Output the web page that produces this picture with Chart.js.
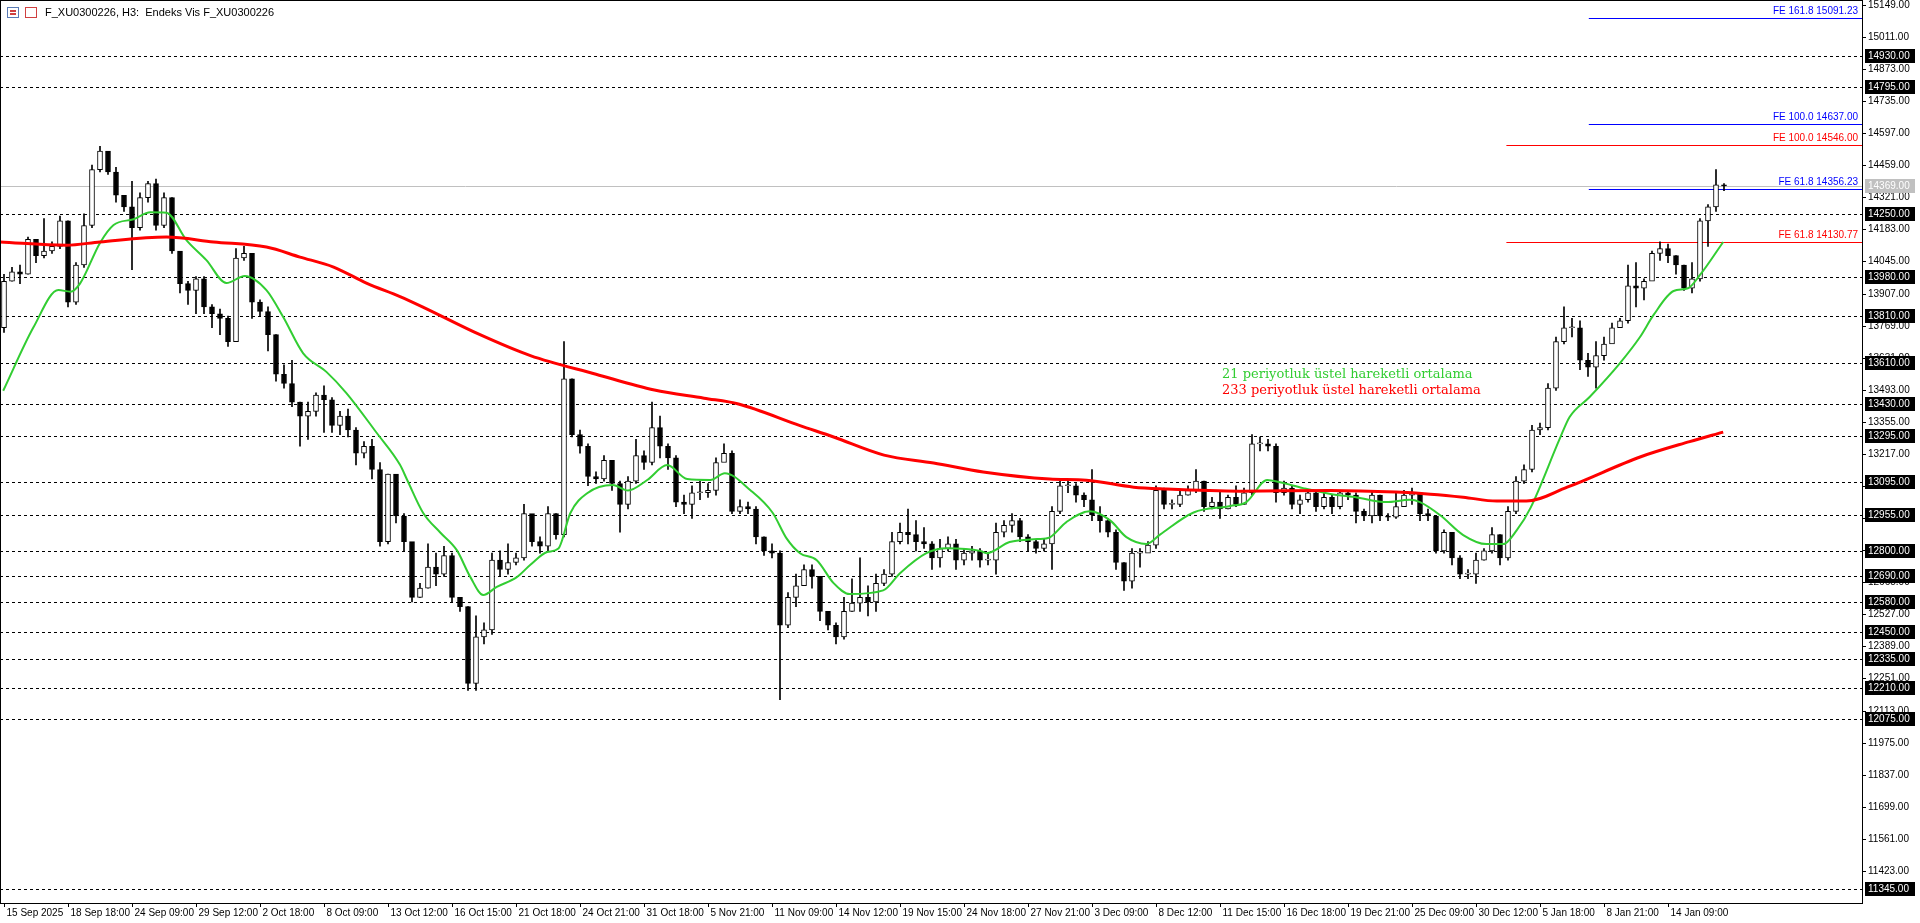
<!DOCTYPE html>
<html>
<head>
<meta charset="utf-8">
<script src="https://cdn.jsdelivr.net/npm/chart.js@4.4.1/dist/chart.umd.min.js"></script>
<style>
  html,body{margin:0;padding:0;background:#fff;overflow:hidden}
  #c{display:block}
</style>
</head>
<body>
<canvas id="c" width="1920" height="923"></canvas>
<script>
// H3 candles (one drawn candle per two source bars), open = previous close
const firstOpen = 13760;
const closes = [
  13960,14000,13990,14140,14070,14090,14110,14220,13870,14030,
  14200,14440,14520,14430,14330,14280,14190,14320,14380,14200,
  14320,14090,13950,13920,13970,13850,13820,13800,13700,14060,
  14080,13870,13830,13730,13560,13520,13440,13380,13400,13470,
  13450,13340,13380,13320,13220,13250,13150,12840,13130,12950,
  12840,12600,12640,12730,12700,12780,12600,12560,12230,12430,
  12460,12760,12720,12750,12770,12960,12840,12820,12960,12870,
  13540,13300,13250,13120,13110,13190,13090,13000,13100,13210,
  13180,13330,13250,13200,13010,13000,13050,13050,13060,13180,
  13220,12970,12990,12980,12860,12800,12790,12480,12600,12650,
  12720,12690,12540,12480,12430,12540,12575,12600,12580,12660,
  12700,12840,12880,12870,12840,12830,12770,12810,12830,12760,
  12790,12800,12760,12760,12880,12910,12930,12860,12840,12810,
  12830,12970,13080,13080,13040,13020,12955,12930,12880,12750,
  12670,12790,12790,12825,13060,13000,13000,13040,13060,13100,
  12990,13010,12980,13030,13000,13050,13260,13260,13250,13050,
  13070,13000,13020,13050,12990,13030,12990,13050,13040,12970,
  12950,13040,12950,12945,12990,13040,13050,12960,12950,12800,
  12880,12770,12700,12700,12760,12800,12870,12770,12970,13100,
  13150,13320,13330,13500,13700,13760,13760,13620,13590,13640,
  13690,13760,13790,13940,13930,13960,14080,14100,14070,14030,
  13930,13970,14220,14280,14375,14370
];
const highs = [
  13990,14020,14030,14150,14110,14230,14130,14240,14220,14040,
  14250,14460,14540,14500,14450,14330,14390,14340,14390,14400,
  14340,14320,14060,13960,13980,13980,13860,13840,13810,14100,
  14110,14080,13880,13850,13730,13600,13620,13440,13440,13480,
  13510,13460,13400,13410,13330,13270,13280,13180,13130,13060,
  12960,12830,12660,12830,12790,12820,12790,12600,12560,12520,
  12490,12790,12800,12830,12790,13000,12950,12860,12990,12960,
  13700,13540,13320,13260,13140,13210,13190,13100,13120,13280,
  13230,13440,13380,13260,13210,13040,13080,13100,13090,13200,
  13260,13230,13020,13010,12990,12860,12830,12800,12620,12700,
  12740,12740,12690,12540,12490,12600,12680,12770,12650,12700,
  12720,12880,12920,12980,12930,12900,12840,12850,12860,12850,
  12810,12820,12810,12790,12920,12930,12960,12940,12870,12850,
  12850,12990,13100,13100,13090,13050,13150,12990,12940,12890,
  12750,12810,12810,12840,13080,13070,13020,13060,13080,13150,
  13100,13030,13060,13040,13080,13070,13300,13290,13280,13260,
  13100,13080,13040,13060,13060,13050,13040,13060,13060,13050,
  12980,13060,13040,12960,13050,13060,13070,13040,12980,12940,
  12890,12880,12780,12720,12790,12810,12900,12870,12990,13120,
  13170,13340,13350,13520,13720,13850,13800,13790,13650,13700,
  13720,13780,13800,14030,14040,13970,14090,14130,14120,14070,
  14030,14040,14230,14290,14440,14380
];
const lows = [
  13740,13960,13950,13990,14040,14060,14080,14100,13850,13860,
  14020,14190,14430,14420,14300,14260,14010,14180,14300,14180,
  14190,14080,13910,13860,13820,13820,13760,13730,13680,13700,
  14050,13800,13810,13660,13530,13500,13420,13250,13280,13380,
  13310,13310,13300,13290,13170,13200,13110,12820,12830,12920,
  12800,12580,12600,12640,12650,12690,12580,12540,12200,12200,
  12400,12440,12690,12700,12740,12760,12820,12790,12800,12850,
  12860,13290,13220,13080,13090,13100,13060,12880,12980,13090,
  13150,13170,13200,13150,12990,12960,12940,13020,13030,13040,
  13190,12960,12960,12960,12830,12780,12770,12160,12470,12560,
  12680,12640,12500,12460,12400,12420,12540,12540,12520,12540,
  12650,12690,12830,12830,12800,12810,12720,12730,12800,12720,
  12740,12760,12730,12740,12700,12860,12880,12840,12800,12790,
  12800,12720,12960,13050,13010,12990,12930,12880,12860,12720,
  12630,12640,12730,12800,12810,12980,12980,12990,13040,13050,
  12970,12980,12940,12980,12990,13000,13040,13230,13230,13010,
  13040,12980,12960,13010,12970,12980,12960,12980,13020,12920,
  12930,12920,12930,12930,12940,12990,13000,12930,12930,12790,
  12790,12740,12680,12680,12660,12760,12790,12740,12760,12960,
  13090,13140,13300,13320,13490,13690,13720,13580,13550,13500,
  13620,13700,13760,13780,13850,13880,13990,14050,14040,13990,
  13920,13910,13960,14110,14260,14350
];

// moving averages: [bar index, price]
const ema21 = [
  [-0.1,13489],[3.7,13763],[6.8,13922],[8.3,13915],[9.5,13950],[12,14125],
  [13.7,14202],[16.2,14227],[18.3,14257],[20.3,14255],[22.8,14137],[25.3,14051],
  [27.8,13952],[30.1,13983],[32.8,13922],[34.9,13806],[37.4,13650],[40.3,13570],
  [42.8,13479],[46.6,13307],[49.5,13170],[50.4,13105],[52.4,12963],[54.5,12880],
  [56.6,12803],[58.3,12687],[59.9,12610],[61.6,12645],[64.1,12687],[65.8,12740],
  [67.9,12795],[69.3,12810],[70.8,12963],[72.9,13048],[76.1,13083],[78,13060],
  [80.4,13105],[82.9,13169],[85.4,13109],[88.3,13105],[90.1,13134],[93.3,13061],
  [96.1,12963],[97.8,12855],[99.5,12790],[101.6,12760],[103.7,12661],[105.7,12614],
  [109.9,12630],[112,12704],[115.3,12790],[117.8,12811],[122,12800],[122.8,12790],
  [125.7,12838],[128.7,12850],[130.5,12855],[132.8,12924],[135.7,12970],[138.3,12930],
  [140.3,12859],[142.8,12830],[144.5,12870],[148.7,12965],[153.3,12993],[155.3,13010],
  [157.9,13105],[159.5,13095],[162.4,13070],[165.8,13045],[169.1,13030],[172.8,13010],
  [175.7,13020],[177,13010],[179.5,12954],[182.4,12868],[185.3,12829],[187.4,12829],
  [189.1,12889],[190.8,12984],[194.5,13285],[195.7,13376],[198.2,13462],[202,13608],
  [204.5,13720],[206.2,13815],[208.7,13918],[210.5,13930],[212,13987],[214.9,14129]
];
const ema233 = [
  [-0.5,14129],[7.8,14115],[12,14129],[20.3,14150],[26.2,14129],[32.8,14107],
  [37,14064],[41.2,14021],[45.3,13952],[49.5,13894],[52.3,13850],[59.5,13730],
  [65.8,13640],[74,13560],[81.3,13492],[87.5,13457],[91.8,13432],[99.5,13339],
  [103.7,13290],[110,13212],[116.2,13178],[122.4,13139],[130.7,13109],[135.3,13104],
  [141.2,13074],[145.3,13066],[154.5,13057],[165.8,13060],[174,13053],[178.3,13044],
  [182.4,13031],[186.6,13014],[190.3,13014],[195.4,13074],[204.6,13205],[210.7,13270],
  [214.9,13311]
];

// horizontal levels and axis
const levels = [14930,14795,14250,13980,13810,13610,13430,13295,13095,12955,12800,12690,12580,12450,12335,12210,12075,11345];
const priceTicks = [15149,15011,14873,14735,14597,14459,14321,14183,14045,13907,13769,13631,13493,13355,13217,13079,12941,12803,12665,12527,12389,12251,12113,11975,11837,11699,11561,11423];
const lastPrice = 14369.00;
const fibLevels = [
  {label:'FE 161.8 15091.23', price:15091.23, color:'#0000ff', from:198.1},
  {label:'FE 100.0 14637.00', price:14637.00, color:'#0000ff', from:198.1},
  {label:'FE 100.0 14546.00', price:14546.00, color:'#ff0000', from:187.8},
  {label:'FE 61.8 14356.23', price:14356.23, color:'#0000ff', from:198.1},
  {label:'FE 61.8 14130.77', price:14130.77, color:'#ff0000', from:187.8}
];
const timeLabels = ['15 Sep 2025','18 Sep 18:00','24 Sep 09:00','29 Sep 12:00','2 Oct 18:00','8 Oct 09:00',
  '13 Oct 12:00','16 Oct 15:00','21 Oct 18:00','24 Oct 21:00','31 Oct 18:00','5 Nov 21:00','11 Nov 09:00',
  '14 Nov 12:00','19 Nov 15:00','24 Nov 18:00','27 Nov 21:00','3 Dec 09:00','8 Dec 12:00','11 Dec 15:00',
  '16 Dec 18:00','19 Dec 21:00','25 Dec 09:00','30 Dec 12:00','5 Jan 18:00','8 Jan 21:00','14 Jan 09:00'];
const labelStep = 8;

const opens = closes.map((c,i)=> i===0 ? firstOpen : closes[i-1]);
const wicks = closes.map((c,i)=>({x:i, y:[lows[i], highs[i]]}));
const bodies = closes.map((c,i)=>({x:i, y:[opens[i], c]}));
const bodyFill = closes.map((c,i)=> c>=opens[i] ? '#ffffff' : '#000000');

const axisFont = '10px "Liberation Sans"';

const overlay = {
  id:'overlay',
  beforeDatasetsDraw(chart){
    const {ctx, chartArea:a, scales:{x,y}} = chart;
    ctx.save();
    ctx.strokeStyle='#000'; ctx.lineWidth=1; ctx.setLineDash([3,3]);
    levels.forEach(p=>{
      const py=Math.round(y.getPixelForValue(p))+0.5;
      ctx.beginPath(); ctx.moveTo(a.left,py); ctx.lineTo(a.right,py); ctx.stroke();
    });
    ctx.setLineDash([]);
    ctx.strokeStyle='#c0c0c0';
    let py=Math.round(y.getPixelForValue(lastPrice))+0.5;
    ctx.beginPath(); ctx.moveTo(a.left,py); ctx.lineTo(a.right,py); ctx.stroke();
    ctx.font=axisFont; ctx.textAlign='right'; ctx.textBaseline='bottom';
    fibLevels.forEach(f=>{
      const fy=Math.round(y.getPixelForValue(f.price))+0.5;
      ctx.strokeStyle=f.color; ctx.beginPath();
      ctx.moveTo(x.getPixelForValue(f.from),fy); ctx.lineTo(a.right,fy); ctx.stroke();
      ctx.fillStyle=f.color; ctx.fillText(f.label,a.right-4,fy-2);
    });
    ctx.restore();
  },
  afterDraw(chart){
    const {ctx, chartArea:a, scales:{x,y}} = chart;
    ctx.save();
    ctx.strokeStyle='#000'; ctx.lineWidth=1;
    ctx.strokeRect(a.left+0.5,a.top+0.5,a.right-a.left,a.bottom-a.top);
    // right axis
    ctx.font=axisFont; ctx.textAlign='left'; ctx.textBaseline='middle';
    priceTicks.forEach(p=>{
      const py=Math.round(y.getPixelForValue(p));
      ctx.strokeStyle='#000'; ctx.beginPath(); ctx.moveTo(a.right,py+0.5); ctx.lineTo(a.right+4,py+0.5); ctx.stroke();
      ctx.fillStyle='#000'; ctx.fillText(p.toFixed(2),a.right+6,py);
    });
    const box=(p,bg)=>{
      const py=Math.round(y.getPixelForValue(p));
      ctx.fillStyle=bg; ctx.fillRect(a.right+3,py-7,50,14);
      ctx.fillStyle='#fff'; ctx.fillText(p.toFixed(2),a.right+6,py);
    };
    levels.forEach(p=>box(p,'#000'));
    box(lastPrice,'#c0c0c0');
    // time axis
    ctx.textAlign='left'; ctx.textBaseline='top'; ctx.fillStyle='#000'; ctx.strokeStyle='#000';
    timeLabels.forEach((t,k)=>{
      const px=Math.round(x.getPixelForValue(k*labelStep))+0.5;
      ctx.beginPath(); ctx.moveTo(px,a.bottom); ctx.lineTo(px,a.bottom+4); ctx.stroke();
      ctx.fillText(t,px+2,a.bottom+5);
    });
    // header
    ctx.strokeStyle='#5a7bb5'; ctx.strokeRect(7.5,7.5,11,10);
    ctx.fillStyle='#d04040'; ctx.fillRect(10,10,6,2); ctx.fillRect(10,13,6,2);
    ctx.strokeStyle='#d04040'; ctx.strokeRect(25.5,7.5,11,10);
    ctx.fillStyle='#000'; ctx.textBaseline='middle';
    ctx.font='11px "Liberation Sans"';
    ctx.fillText('F_XU0300226, H3:  Endeks Vis F_XU0300226',45,13);
    // annotation
    ctx.font='13px "DejaVu Serif"'; ctx.textBaseline='alphabetic';
    ctx.fillStyle='#32cd32'; ctx.fillText('21 periyotluk üstel hareketli ortalama',1222,378);
    ctx.fillStyle='#ff0000'; ctx.fillText('233 periyotluk üstel hareketli ortalama',1222,394);
    ctx.restore();
  }
};

new Chart(document.getElementById('c'), {
  data:{
    datasets:[
      {type:'line', data:ema233.map(p=>({x:p[0],y:p[1]})), borderColor:'#ff0000', borderWidth:3, pointRadius:0, cubicInterpolationMode:'monotone', order:1},
      {type:'line', data:ema21.map(p=>({x:p[0],y:p[1]})), borderColor:'#32cd32', borderWidth:2, pointRadius:0, cubicInterpolationMode:'monotone', order:2},
      {type:'bar', data:wicks, backgroundColor:'#000', barThickness:1, grouped:false, order:4},
      {type:'bar', data:bodies, backgroundColor:bodyFill, borderColor:'#000', borderWidth:1, borderSkipped:false,
       barThickness:5, minBarLength:1, grouped:false, order:3}
    ]
  },
  options:{
    responsive:false, animation:false, devicePixelRatio:1,
    layout:{padding:{left:0,top:0,right:58,bottom:20}},
    plugins:{legend:{display:false}, tooltip:{enabled:false}},
    scales:{
      x:{type:'linear', min:-0.5, max:232.25, offset:false, display:false},
      y:{min:11285, max:15170, display:false}
    }
  },
  plugins:[overlay]
});
</script>
</body>
</html>
